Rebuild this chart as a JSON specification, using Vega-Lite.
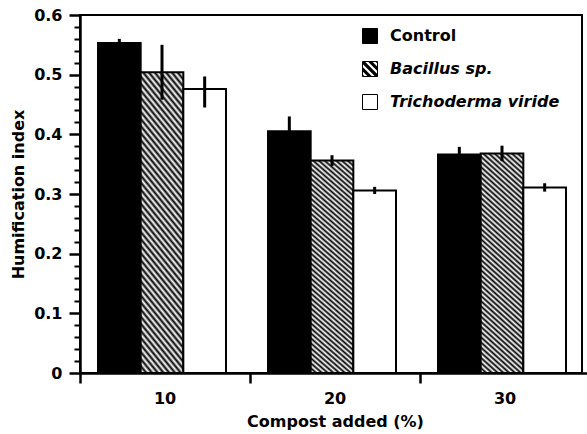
{
  "$schema": "https://vega.github.io/schema/vega-lite/v6.json",
  "width": 502,
  "height": 358,
  "autosize": {"type": "none"},
  "padding": {"left": 80, "top": 15, "right": 5, "bottom": 61},
  "background": "white",
  "config": {
    "view": {"stroke": "black", "strokeWidth": 2},
    "axis": {"labelFont": "DejaVu Sans", "labelFontWeight": "bold", "labelColor": "black", "titleFont": "DejaVu Sans", "titleFontWeight": "bold", "titleColor": "black", "domainColor": "black", "tickColor": "black", "grid": false}
  },
  "data": {"values": [
    {"compost": "10", "treatment": "Control", "mean": 0.553, "lo": 0.546, "hi": 0.560},
    {"compost": "10", "treatment": "Bacillus sp.", "mean": 0.504, "lo": 0.458, "hi": 0.550},
    {"compost": "10", "treatment": "Trichoderma viride", "mean": 0.476, "lo": 0.445, "hi": 0.497},
    {"compost": "20", "treatment": "Control", "mean": 0.405, "lo": 0.380, "hi": 0.430},
    {"compost": "20", "treatment": "Bacillus sp.", "mean": 0.356, "lo": 0.347, "hi": 0.365},
    {"compost": "20", "treatment": "Trichoderma viride", "mean": 0.306, "lo": 0.300, "hi": 0.312},
    {"compost": "30", "treatment": "Control", "mean": 0.366, "lo": 0.353, "hi": 0.379},
    {"compost": "30", "treatment": "Bacillus sp.", "mean": 0.368, "lo": 0.355, "hi": 0.381},
    {"compost": "30", "treatment": "Trichoderma viride", "mean": 0.311, "lo": 0.304, "hi": 0.318}
  ]},
  "resolve": {"axis": {"x": "independent", "y": "independent"}},
  "layer": [
    {
      "mark": {"type": "bar", "stroke": "black", "strokeWidth": 2},
      "encoding": {
        "x": {"field": "compost", "type": "nominal", "scale": {"range": [0, 510], "paddingInner": 0, "paddingOuter": 0},
          "axis": {"orient": "bottom", "title": "Compost added (%)", "labelAngle": 0, "ticks": false, "tickSize": 0, "labelPadding": 17, "labelFontSize": 16, "titleFontSize": 16, "titlePadding": 7, "domainWidth": 2.5}},
        "xOffset": {"field": "treatment", "type": "nominal", "sort": ["Control", "Bacillus sp.", "Trichoderma viride"], "scale": {"range": [18, 146]}},
        "y": {"field": "mean", "type": "quantitative", "scale": {"domain": [0, 0.6], "nice": false},
          "axis": {"orient": "left", "values": [0, 0.1, 0.2, 0.3, 0.4, 0.5, 0.6], "format": "~g", "tickSize": 11, "tickWidth": 2.5, "domainWidth": 2.5, "labelFontSize": 16, "labelPadding": 7, "title": "Humification index", "titleFontSize": 16, "titlePadding": 7}},
        "fill": {"field": "treatment", "type": "nominal",
          "scale": {"domain": ["Control", "Bacillus sp.", "Trichoderma viride"], "range": ["black", "black", "white"]},
          "condition": {"test": "datum.treatment === 'Bacillus sp.'", "value": {"gradient": "linear", "x1": 0, "y1": 1, "x2": 0.1985, "y2": -0.1394, "stops": [
            {"offset": 0, "color": "#000"}, {"offset": 0.01, "color": "#fff"}, {"offset": 0.02, "color": "#000"}, {"offset": 0.03, "color": "#fff"}, {"offset": 0.04, "color": "#000"}, {"offset": 0.05, "color": "#fff"}, {"offset": 0.06, "color": "#000"}, {"offset": 0.07, "color": "#fff"}, {"offset": 0.08, "color": "#000"}, {"offset": 0.09, "color": "#fff"},
            {"offset": 0.1, "color": "#000"}, {"offset": 0.11, "color": "#fff"}, {"offset": 0.12, "color": "#000"}, {"offset": 0.13, "color": "#fff"}, {"offset": 0.14, "color": "#000"}, {"offset": 0.15, "color": "#fff"}, {"offset": 0.16, "color": "#000"}, {"offset": 0.17, "color": "#fff"}, {"offset": 0.18, "color": "#000"}, {"offset": 0.19, "color": "#fff"},
            {"offset": 0.2, "color": "#000"}, {"offset": 0.21, "color": "#fff"}, {"offset": 0.22, "color": "#000"}, {"offset": 0.23, "color": "#fff"}, {"offset": 0.24, "color": "#000"}, {"offset": 0.25, "color": "#fff"}, {"offset": 0.26, "color": "#000"}, {"offset": 0.27, "color": "#fff"}, {"offset": 0.28, "color": "#000"}, {"offset": 0.29, "color": "#fff"},
            {"offset": 0.3, "color": "#000"}, {"offset": 0.31, "color": "#fff"}, {"offset": 0.32, "color": "#000"}, {"offset": 0.33, "color": "#fff"}, {"offset": 0.34, "color": "#000"}, {"offset": 0.35, "color": "#fff"}, {"offset": 0.36, "color": "#000"}, {"offset": 0.37, "color": "#fff"}, {"offset": 0.38, "color": "#000"}, {"offset": 0.39, "color": "#fff"},
            {"offset": 0.4, "color": "#000"}, {"offset": 0.41, "color": "#fff"}, {"offset": 0.42, "color": "#000"}, {"offset": 0.43, "color": "#fff"}, {"offset": 0.44, "color": "#000"}, {"offset": 0.45, "color": "#fff"}, {"offset": 0.46, "color": "#000"}, {"offset": 0.47, "color": "#fff"}, {"offset": 0.48, "color": "#000"}, {"offset": 0.49, "color": "#fff"},
            {"offset": 0.5, "color": "#000"}, {"offset": 0.51, "color": "#fff"}, {"offset": 0.52, "color": "#000"}, {"offset": 0.53, "color": "#fff"}, {"offset": 0.54, "color": "#000"}, {"offset": 0.55, "color": "#fff"}, {"offset": 0.56, "color": "#000"}, {"offset": 0.57, "color": "#fff"}, {"offset": 0.58, "color": "#000"}, {"offset": 0.59, "color": "#fff"},
            {"offset": 0.6, "color": "#000"}, {"offset": 0.61, "color": "#fff"}, {"offset": 0.62, "color": "#000"}, {"offset": 0.63, "color": "#fff"}, {"offset": 0.64, "color": "#000"}, {"offset": 0.65, "color": "#fff"}, {"offset": 0.66, "color": "#000"}, {"offset": 0.67, "color": "#fff"}, {"offset": 0.68, "color": "#000"}, {"offset": 0.69, "color": "#fff"},
            {"offset": 0.7, "color": "#000"}, {"offset": 0.71, "color": "#fff"}, {"offset": 0.72, "color": "#000"}, {"offset": 0.73, "color": "#fff"}, {"offset": 0.74, "color": "#000"}, {"offset": 0.75, "color": "#fff"}, {"offset": 0.76, "color": "#000"}, {"offset": 0.77, "color": "#fff"}, {"offset": 0.78, "color": "#000"}, {"offset": 0.79, "color": "#fff"},
            {"offset": 0.8, "color": "#000"}, {"offset": 0.81, "color": "#fff"}, {"offset": 0.82, "color": "#000"}, {"offset": 0.83, "color": "#fff"}, {"offset": 0.84, "color": "#000"}, {"offset": 0.85, "color": "#fff"}, {"offset": 0.86, "color": "#000"}, {"offset": 0.87, "color": "#fff"}, {"offset": 0.88, "color": "#000"}, {"offset": 0.89, "color": "#fff"},
            {"offset": 0.9, "color": "#000"}, {"offset": 0.91, "color": "#fff"}, {"offset": 0.92, "color": "#000"}, {"offset": 0.93, "color": "#fff"}, {"offset": 0.94, "color": "#000"}, {"offset": 0.95, "color": "#fff"}, {"offset": 0.96, "color": "#000"}, {"offset": 0.97, "color": "#fff"}, {"offset": 0.98, "color": "#000"}, {"offset": 0.99, "color": "#fff"},
            {"offset": 1, "color": "#000"}
          ]}},
          "legend": {"orient": "none", "legendX": 282, "legendY": 13, "title": null, "symbolType": "square", "symbolSize": 225, "symbolStrokeColor": "black", "symbolStrokeWidth": 1, "symbolOpacity": 1, "labelFont": "DejaVu Sans", "labelFontWeight": "bold", "labelFontSize": 16, "labelColor": "black", "labelOffset": 12, "rowPadding": 13, "padding": 0, "labelLimit": 300,
            "encode": {
              "symbols": {"update": {
                "shape": {"signal": "datum.value === 'Bacillus sp.' ? 'M-1,-1H1V1H-1Z M-1,0.225L-1,0.775L-0.775,1L-0.225,1Z M-1,-0.775L-1,-0.225L0.225,1L0.775,1Z M1,0.775L1,0.225L-0.225,-1L-0.775,-1Z M1,-0.225L1,-0.775L0.775,-1L0.225,-1Z' : 'square'"}
              }},
              "labels": {"update": {"fontStyle": {"signal": "datum.value === 'Control' ? 'normal' : 'italic'"}}}
            }
          }
        }
      }
    },
    {
      "mark": {"type": "rule", "strokeWidth": 3, "color": "black"},
      "encoding": {
        "x": {"field": "compost", "type": "nominal",
          "axis": {"orient": "bottom", "bandPosition": 0, "labels": false, "ticks": true, "tickSize": 10, "tickWidth": 2.5, "domain": false, "title": null}},
        "xOffset": {"field": "treatment", "type": "nominal", "sort": ["Control", "Bacillus sp.", "Trichoderma viride"]},
        "y": {"field": "lo", "type": "quantitative",
          "axis": {"orient": "left", "values": [0.02, 0.04, 0.06, 0.08, 0.12, 0.14, 0.16, 0.18, 0.22, 0.24, 0.26, 0.28, 0.32, 0.34, 0.36, 0.38, 0.42, 0.44, 0.46, 0.48, 0.52, 0.54, 0.56, 0.58], "labels": false, "tickSize": 6, "tickWidth": 2, "domain": false, "title": null}},
        "y2": {"field": "hi"}
      }
    }
  ]
}
